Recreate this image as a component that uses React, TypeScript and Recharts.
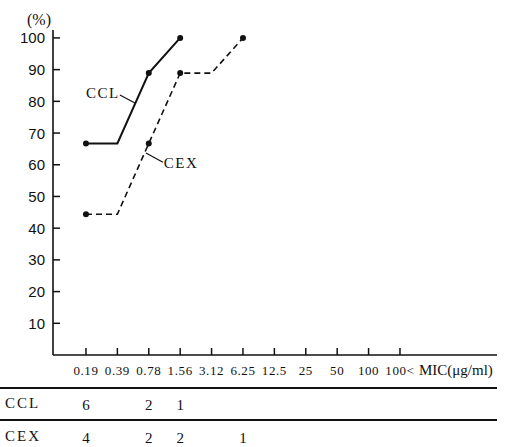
import { LineChart, Line, XAxis, YAxis, ReferenceLine, ReferenceDot } from "recharts";

// MIC categories (µg/ml)
const categories = ["0.19", "0.39", "0.78", "1.56", "3.12", "6.25", "12.5", "25", "50", "100", "100<"];
// cumulative % of strains inhibited
const cclPercent = [66.7, 66.7, 88.9, 100];
const cexPercent = [44.4, 44.4, 66.7, 88.9, 88.9, 100];
// number of strains per MIC (table below the chart)
const cclCount = ["6", "", "2", "1", "", "", "", "", "", "", ""];
const cexCount = ["4", "", "2", "2", "", "1", "", "", "", "", ""];
const yTicks = [10, 20, 30, 40, 50, 60, 70, 80, 90, 100];

const data = categories.map((c, i) => ({
  idx: i,
  mic: c,
  ccl: cclPercent[i],
  cex: cexPercent[i],
}));

const INK = "#111";
const SERIF = "'Liberation Serif', 'DejaVu Serif', serif";
const SANS = "'Liberation Sans', Arial, sans-serif";

// x tick: inward tick mark, MIC label, and the two count rows of the table
const XTick = ({ x, y, payload }: { x?: number; y?: number; payload?: { value: number } }) => {
  const i = payload?.value ?? 0;
  const px = x ?? 0;
  const py = y ?? 0;
  return (
    <g>
      <path d={`M${px},${py - 7}L${px},${py}`} stroke={INK} strokeWidth={1.5} />
      <text x={px} y={py + 15} textAnchor="middle" dominantBaseline="central" fill={INK}
        style={{ fontFamily: SERIF, fontSize: 13, letterSpacing: 0.6 }}>
        {categories[i]}
      </text>
      {i === categories.length - 1 && (
        <text x={px + 19} y={py + 15} textAnchor="start" dominantBaseline="central" fill={INK}
          style={{ fontFamily: SERIF, fontSize: 15 }}>
          MIC(μg/ml)
        </text>
      )}
      <text x={px} y={py + 50} textAnchor="middle" dominantBaseline="central" fill={INK}
        style={{ fontFamily: SERIF, fontSize: 15 }}>
        {cclCount[i]}
      </text>
      <text x={px} y={py + 83} textAnchor="middle" dominantBaseline="central" fill={INK}
        style={{ fontFamily: SERIF, fontSize: 15 }}>
        {cexCount[i]}
      </text>
    </g>
  );
};

const YTick = ({ x, y, payload }: { x?: number; y?: number; payload?: { value: number } }) => {
  const px = x ?? 0;
  const py = y ?? 0;
  return (
    <g>
      <path d={`M${px + 8},${py}L${px + 15},${py}`} stroke={INK} strokeWidth={1.5} />
      <text x={px} y={py} textAnchor="end" dominantBaseline="central" fill={INK}
        style={{ fontFamily: SANS, fontSize: 15 }}>
        {payload?.value}
      </text>
    </g>
  );
};

// only draw a dot where the count changes (table value present)
const makeDot = (counts: string[]) => (props: { cx?: number; cy?: number; index?: number }) => {
  const { cx, cy, index } = props;
  if (cx == null || cy == null || index == null || !counts[index]) return <g key={`d${index}`} />;
  return <circle key={`d${index}`} cx={cx} cy={cy} r={3} fill={INK} />;
};

const seriesLabel = (text: string) => (props: { viewBox?: { cx?: number; cy?: number; x?: number; y?: number } }) => {
  const vb = props.viewBox ?? {};
  const cx = vb.cx ?? vb.x ?? 0;
  const cy = vb.cy ?? vb.y ?? 0;
  return (
    <text x={cx} y={cy} textAnchor="middle" dominantBaseline="central" fill={INK}
      style={{ fontFamily: SERIF, fontSize: 15, letterSpacing: 1.5 }}>
      {text}
    </text>
  );
};

export default function App() {
  return (
    <div style={{ position: "absolute", left: 0, top: 0, width: 508, height: 447, background: "#fff" }}>
      <LineChart width={508} height={447} data={data} margin={{ top: 30, right: 11, bottom: 0, left: 0 }}>
        <XAxis
          dataKey="idx"
          type="number"
          domain={[-1.05, 13.09]}
          ticks={categories.map((_, i) => i)}
          interval={0}
          allowDataOverflow
          tick={XTick as never}
          tickLine={false}
          tickSize={0}
          tickMargin={0}
          axisLine={{ stroke: INK, strokeWidth: 1.6 }}
          height={92}
        />
        <YAxis
          domain={[0, 102.5]}
          ticks={yTicks}
          interval={0}
          width={53}
          tick={YTick as never}
          tickLine={false}
          tickSize={0}
          tickMargin={8}
          axisLine={{ stroke: INK, strokeWidth: 1.6 }}
          allowDataOverflow
        />
        {/* leader lines and series names */}
        <ReferenceLine segment={[{ x: 1.08, y: 82.0 }, { x: 1.56, y: 79.5 }]} stroke={INK} strokeWidth={1.2} ifOverflow="visible" />
        <ReferenceLine segment={[{ x: 1.91, y: 63.7 }, { x: 2.45, y: 60.8 }]} stroke={INK} strokeWidth={1.2} ifOverflow="visible" />
        <ReferenceDot x={0.54} y={82.7} r={0} fill="none" stroke="none" label={seriesLabel("CCL") as never} ifOverflow="visible" />
        <ReferenceDot x={3.03} y={60.5} r={0} fill="none" stroke="none" label={seriesLabel("CEX") as never} ifOverflow="visible" />
        <Line
          dataKey="ccl"
          stroke={INK}
          strokeWidth={2}
          dot={makeDot(cclCount) as never}
          activeDot={false}
          isAnimationActive={false}
        />
        <Line
          dataKey="cex"
          stroke={INK}
          strokeWidth={1.6}
          strokeDasharray="6 4"
          dot={makeDot(cexCount) as never}
          activeDot={false}
          isAnimationActive={false}
        />
      </LineChart>
      <div style={{ position: "absolute", left: 27, top: 11, fontFamily: SERIF, fontSize: 16, color: INK }}>(%)</div>
      <div style={{ position: "absolute", left: 0, top: 387, width: 497, height: 1.5, background: INK }} />
      <div style={{ position: "absolute", left: 0, top: 419, width: 497, height: 1.5, background: INK }} />
      <div style={{ position: "absolute", left: 5, top: 395, fontFamily: SERIF, fontSize: 15, letterSpacing: 2, color: INK }}>CCL</div>
      <div style={{ position: "absolute", left: 5, top: 428, fontFamily: SERIF, fontSize: 15, letterSpacing: 2, color: INK }}>CEX</div>
    </div>
  );
}
